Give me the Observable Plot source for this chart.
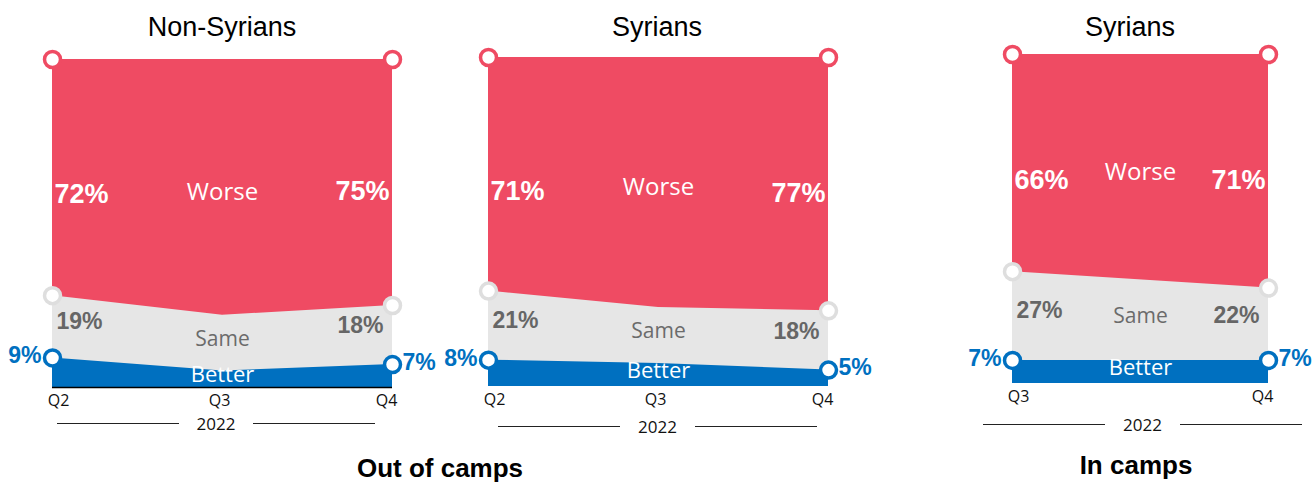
<!DOCTYPE html>
<html><head><meta charset="utf-8">
<script src="https://cdn.jsdelivr.net/npm/d3@7"></script>
<script src="https://cdn.jsdelivr.net/npm/@observablehq/plot@0.6"></script>
<style>
html,body{margin:0;padding:0;background:#fff;}
#chart{position:relative;width:1315px;height:483px;overflow:hidden;background:#fff;}
#chart svg{position:absolute;left:0;top:0;}
.title{position:absolute;font-family:"Liberation Sans",Arial,sans-serif;font-size:27px;color:#000;transform:translate(-50%,-50%);white-space:nowrap;}
.caption{position:absolute;font-family:"Liberation Sans",Arial,sans-serif;font-size:26px;font-weight:bold;color:#000;transform:translate(-50%,-50%);white-space:nowrap;}
.year{position:absolute;display:flex;align-items:center;height:20px;transform:translateY(-50%);}
.year .ln{flex:1;height:1px;background:#222;}
.year span{font-family:"Open Sans",sans-serif;font-size:17px;color:#111;padding:0 18px;}
</style></head><body><div id="chart"></div>
<script>
// ---- data ----
const categories = ["Better", "Same", "Worse"];
const panelTitles = ["Non-Syrians", "Syrians", "Syrians"];
const groupCaptions = ["Out of camps", "In camps"];
const yearLabel = "2022";
const quartersOut = ["Q2", "Q3", "Q4"];
const quartersIn = ["Q3", "Q4"];
const nonSyriansBetter = [9, 5, 7];
const nonSyriansSame = [19, 17, 18];
const nonSyriansWorse = [72, 78, 75];
const syriansOutBetter = [8, 7, 5];
const syriansOutSame = [21, 17, 18];
const syriansOutWorse = [71, 76, 77];
const syriansInBetter = [7, 7];
const syriansInSame = [27, 22];
const syriansInWorse = [66, 71];

// ---- styling ----
const fillColor = {Better: "#0070C0", Same: "#E6E6E6", Worse: "#EF4B63"};
const dotColor = {Better: "#0070C0", Same: "#DEDEDE", Worse: "#EF4B63"};
const ARIAL = "Liberation Sans, Arial, sans-serif";
const SANS = "Open Sans, Noto Sans, sans-serif";
const W = 1315, H = 483;

const layout = [
  {L: 52, R: 392, T: 59, B: 387, baseline: true, titleX: 222, titleY: 27, yearL: 57, yearR: 375, yearY: 423},
  {L: 488, R: 828, T: 57, B: 386, baseline: false, titleX: 657, titleY: 27, yearL: 498, yearR: 817, yearY: 426},
  {L: 1012, R: 1268, T: 54, B: 383, baseline: false, titleX: 1130, titleY: 27, yearL: 983, yearR: 1302, yearY: 424}
];
const captionPos = [{x: 440, y: 468}, {x: 1136, y: 465}];

const panels = [
  {quarters: quartersOut, values: {Better: nonSyriansBetter, Same: nonSyriansSame, Worse: nonSyriansWorse}},
  {quarters: quartersOut, values: {Better: syriansOutBetter, Same: syriansOutSame, Worse: syriansOutWorse}},
  {quarters: quartersIn, values: {Better: syriansInBetter, Same: syriansInSame, Worse: syriansInWorse}}
];

const chart = document.getElementById("chart");

function makePanel(p, lay) {
  const n = p.quarters.length;
  const rows = [];
  p.quarters.forEach((q, i) => {
    let cum = 0;
    categories.forEach(c => {
      const v = p.values[c][i];
      rows.push({i, q, cat: c, v, y1: cum, y2: cum + v, mid: cum + v / 2});
      cum += v;
    });
  });
  // interpolated stack at the horizontal centre (for the category words)
  const t = (n - 1) / 2, lo = Math.floor(t), hi = Math.ceil(t), f = t - lo;
  const centre = categories.map(c => {
    const a = rows.find(r => r.i === lo && r.cat === c), b = rows.find(r => r.i === hi && r.cat === c);
    const y1 = a.y1 + (b.y1 - a.y1) * f, y2 = a.y2 + (b.y2 - a.y2) * f;
    return {x: t, cat: c, mid: (y1 + y2) / 2};
  });
  const first = rows.filter(r => r.i === 0);
  const last = rows.filter(r => r.i === n - 1);
  const ends = first.concat(last);
  const pct = d => d.v + "%";
  const of = (arr, c) => arr.filter(r => r.cat === c);
  const ticks = of(rows, "Better");

  const marks = [];
  ["Worse", "Same", "Better"].forEach(c => {
    marks.push(Plot.areaY(of(rows, c), {x: "i", y1: 0, y2: "y2", fill: fillColor[c], curve: "linear"}));
  });
  if (lay.baseline) marks.push(Plot.ruleY([0], {stroke: "#000", strokeWidth: 1.5}));
  marks.push(Plot.dot(ends, {x: "i", y: "y2", r: 8, fill: "white", stroke: d => dotColor[d.cat], strokeWidth: 3.5}));
  // Worse %
  marks.push(Plot.text(of(first, "Worse"), {x: "i", y: "mid", text: pct, textAnchor: "start", dx: 2, dy: 17, fill: "white", fontWeight: "bold", fontSize: 27, fontFamily: ARIAL}));
  marks.push(Plot.text(of(last, "Worse"), {x: "i", y: "mid", text: pct, textAnchor: "end", dx: -3, dy: 9, fill: "white", fontWeight: "bold", fontSize: 27, fontFamily: ARIAL}));
  // Same %
  marks.push(Plot.text(of(first, "Same"), {x: "i", y: "mid", text: pct, textAnchor: "start", dx: 4, dy: -5, fill: "#666", fontWeight: "bold", fontSize: 23, fontFamily: ARIAL}));
  marks.push(Plot.text(of(last, "Same"), {x: "i", y: "mid", text: pct, textAnchor: "end", dx: -9, dy: -9, fill: "#666", fontWeight: "bold", fontSize: 23, fontFamily: ARIAL}));
  // Better %
  marks.push(Plot.text(of(first, "Better"), {x: "i", y: "y2", text: pct, textAnchor: "end", dx: -11, dy: -2, fill: "#0070C0", fontWeight: "bold", fontSize: 23, fontFamily: ARIAL}));
  marks.push(Plot.text(of(last, "Better"), {x: "i", y: "y2", text: pct, textAnchor: "start", dx: 10, dy: -2, fill: "#0070C0", fontWeight: "bold", fontSize: 23, fontFamily: ARIAL}));
  // category words
  marks.push(Plot.text(of(centre, "Worse"), {x: "x", y: "mid", text: "cat", dy: 5, fill: "white", fontSize: 24, fontFamily: SANS}));
  marks.push(Plot.text(of(centre, "Same"), {x: "x", y: "mid", text: "cat", dy: -4, fill: "#6b6b6b", fontSize: 21, fontFamily: SANS}));
  marks.push(Plot.text(of(centre, "Better"), {x: "x", y: "mid", text: "cat", dy: -4, fill: "white", fontSize: 22, fontFamily: SANS}));
  // quarter tick labels
  marks.push(Plot.text(ticks.filter(r => r.i === 0), {x: "i", text: "q", frameAnchor: "bottom", dx: 6, dy: 18, fill: "#111", fontSize: 16, fontFamily: SANS}));
  marks.push(Plot.text(ticks.filter(r => r.i > 0 && r.i < n - 1), {x: "i", text: "q", frameAnchor: "bottom", dx: -3, dy: 18, fill: "#111", fontSize: 16, fontFamily: SANS}));
  marks.push(Plot.text(ticks.filter(r => r.i === n - 1 && n > 1), {x: "i", text: "q", frameAnchor: "bottom", dx: -6, dy: 18, fill: "#111", fontSize: 16, fontFamily: SANS}));

  return Plot.plot({
    width: W, height: H,
    marginLeft: lay.L, marginRight: W - lay.R, marginTop: lay.T, marginBottom: H - lay.B,
    x: {domain: [0, n - 1], axis: null},
    y: {domain: [0, 100], axis: null},
    style: {background: "transparent", overflow: "visible", maxWidth: "none"},
    marks
  });
}

panels.forEach((p, k) => {
  const lay = layout[k];
  chart.appendChild(makePanel(p, lay));
  const t = document.createElement("div");
  t.className = "title"; t.textContent = panelTitles[k];
  t.style.left = lay.titleX + "px"; t.style.top = lay.titleY + "px";
  chart.appendChild(t);
  const y = document.createElement("div");
  y.className = "year";
  y.style.left = lay.yearL + "px"; y.style.width = (lay.yearR - lay.yearL) + "px"; y.style.top = lay.yearY + "px";
  y.innerHTML = '<div class="ln"></div><span>' + yearLabel + '</span><div class="ln"></div>';
  chart.appendChild(y);
});
groupCaptions.forEach((c, k) => {
  const d = document.createElement("div");
  d.className = "caption"; d.textContent = c;
  d.style.left = captionPos[k].x + "px"; d.style.top = captionPos[k].y + "px";
  chart.appendChild(d);
});
</script></body></html>
